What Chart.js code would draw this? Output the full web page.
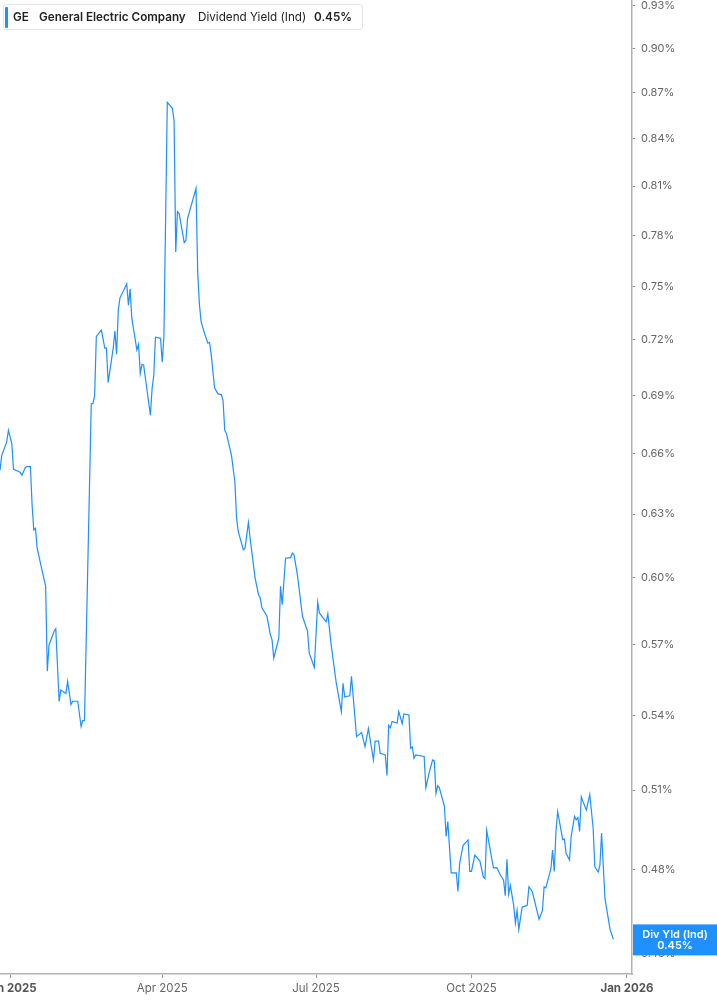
<!DOCTYPE html>
<html>
<head>
<meta charset="utf-8">
<script src="https://cdn.jsdelivr.net/npm/chart.js@4"></script>
<style>
  html, body { margin: 0; padding: 0; background: #fff; overflow: hidden; }
  #wrap { position: relative; width: 717px; height: 1005px; }
  #legend {
    position: absolute; left: 3px; top: 4px; width: 360px; height: 26px;
    border: 1px solid #e4e4e4; border-radius: 3px; background: #fff;
    font-family: Inter, sans-serif; font-size: 11.7px; color: #222;
    line-height: 25px; white-space: nowrap; box-sizing: border-box;
  }
  #legend .bar { position: absolute; left: 1px; top: 2px; width: 3px; height: 21px; background: #1e90ff; border-radius: 1px; }
  #legend span { position: absolute; top: 0; }
  #legend b { font-weight: 600; }
</style>
</head>
<body>
<div id="wrap">
  <canvas id="chart" width="717" height="1005"></canvas>
  <div id="legend">
    <div class="bar"></div>
    <span style="left:9px"><b>GE</b></span>
    <span style="left:35px"><b>General Electric Company</b></span>
    <span style="left:194px">Dividend Yield (Ind)</span>
    <span style="left:310px"><b>0.45%</b></span>
  </div>
</div>
<script>
// days since 1 Jan 2025
const days = [-6, -5, -2, -1, 1, 2, 5, 6, 7, 9, 10, 12, 13, 14, 15, 16, 19, 21, 22, 23,
  26, 27, 29, 30, 33, 34, 36, 37, 40, 42, 43, 44, 48, 49, 50, 51, 54, 56, 57, 58,
  61, 62, 63, 64, 65, 69, 70, 71, 72, 75, 76, 77, 78, 79, 83, 84, 85, 86, 89, 90,
  91, 93, 96, 97, 98, 99, 100, 103, 104, 105, 110, 111, 112, 113, 115, 117, 118, 119, 121, 123,
  125, 126, 127, 128, 131, 133, 134, 135, 138, 139, 141, 142, 145, 147, 148, 149, 152, 154, 155, 156,
  159, 160, 161, 163, 166, 167, 168, 170, 173, 176, 177, 180, 182, 183, 187, 188, 190, 193, 196, 197,
  198, 201, 202, 205, 208, 210, 212, 215, 216, 218, 219, 222, 223, 224, 225, 226, 229, 230, 232, 233,
  236, 237, 238, 239, 240, 245, 246, 248, 250, 251, 252, 253, 254, 257, 258, 259, 261, 264, 265, 266,
  268, 271, 272, 273, 275, 278, 280, 281, 282, 286, 288, 290, 292, 293, 294, 295, 296, 298, 299, 300,
  301, 303, 306, 307, 309, 313, 315, 316, 317, 320, 321, 322, 323, 324, 327, 328, 329, 331, 332, 334,
  335, 336, 337, 338, 339, 341, 343, 345, 346, 348, 349, 350, 352, 355, 357];

// dividend yield in %
const yieldPct = [0.6515, 0.6589, 0.6660, 0.6718, 0.6649, 0.6520, 0.6509, 0.6504, 0.6491, 0.6529, 0.6534, 0.6534, 0.6343, 0.6224, 0.6232, 0.6138, 0.6030, 0.5962, 0.5586, 0.5699,
  0.5760, 0.5771, 0.5458, 0.5506, 0.5492, 0.5543, 0.5445, 0.5459, 0.5459, 0.5354, 0.5379, 0.5379, 0.6856, 0.6856, 0.6899, 0.7219, 0.7254, 0.7154, 0.7154, 0.6968,
  0.7154, 0.7249, 0.7121, 0.7366, 0.7435, 0.7515, 0.7394, 0.7486, 0.7320, 0.7144, 0.7175, 0.7017, 0.7066, 0.7062, 0.6796, 0.6935, 0.7007, 0.7214, 0.7208, 0.7077,
  0.7219, 0.8636, 0.8597, 0.8516, 0.7701, 0.7942, 0.7932, 0.7756, 0.7769, 0.7901, 0.8085, 0.7580, 0.7400, 0.7301, 0.7236, 0.7181, 0.7186, 0.7117, 0.6939, 0.6908,
  0.6904, 0.6873, 0.6718, 0.6701, 0.6589, 0.6458, 0.6279, 0.6217, 0.6130, 0.6138, 0.6260, 0.6185, 0.5998, 0.5923, 0.5908, 0.5864, 0.5826, 0.5744, 0.5722, 0.5642,
  0.5729, 0.5961, 0.5878, 0.6091, 0.6094, 0.6115, 0.6107, 0.6013, 0.5826, 0.5759, 0.5664, 0.5602, 0.5890, 0.5841, 0.5801, 0.5837, 0.5699, 0.5535, 0.5416, 0.5535,
  0.5478, 0.5482, 0.5564, 0.5313, 0.5330, 0.5273, 0.5346, 0.5219, 0.5295, 0.5295, 0.5246, 0.5239, 0.5157, 0.5359, 0.5349, 0.5375, 0.5369, 0.5416, 0.5366, 0.5406,
  0.5402, 0.5266, 0.5271, 0.5226, 0.5239, 0.5233, 0.5109, 0.5170, 0.5219, 0.5215, 0.5087, 0.5117, 0.5109, 0.5037, 0.4922, 0.4979, 0.4787, 0.4787, 0.4719, 0.4821,
  0.4888, 0.4909, 0.4792, 0.4792, 0.4852, 0.4830, 0.4772, 0.4766, 0.4945, 0.4805, 0.4806, 0.4780, 0.4760, 0.4704, 0.4837, 0.4709, 0.4741, 0.4669, 0.4606, 0.4651,
  0.4584, 0.4663, 0.4669, 0.4736, 0.4718, 0.4620, 0.4651, 0.4736, 0.4732, 0.4802, 0.4871, 0.4792, 0.4941, 0.5017, 0.4910, 0.4912, 0.4859, 0.4834, 0.4922, 0.4998,
  0.4985, 0.4994, 0.4941, 0.5074, 0.5055, 0.5023, 0.5083, 0.4954, 0.4809, 0.4790, 0.4814, 0.4935, 0.4694, 0.4584, 0.4549];

const yTicks = [0.45, 0.48, 0.51, 0.54, 0.57, 0.60, 0.63, 0.66, 0.69, 0.72, 0.75, 0.78, 0.81, 0.84, 0.87, 0.90, 0.93];
const xTickDays = [0, 90, 181, 273, 365];
const xTickLabels = ["Jan 2025", "Apr 2025", "Jul 2025", "Oct 2025", "Jan 2026"];

const BLUE = "#1e90ff";
Chart.defaults.font.family = "Inter, sans-serif";

// blue reading box on the right axis
const lastValueBox = {
  id: "lastValueBox",
  afterDraw(chart) {
    const c = chart.ctx;
    const y = chart.scales.y.getPixelForValue(yieldPct[yieldPct.length - 1]);
    const left = chart.chartArea.right + 1;
    c.save();
    c.fillStyle = BLUE;
    c.fillRect(left, y - 15, chart.width - left, 31);
    c.fillStyle = "#fff";
    c.font = "600 11px Inter, sans-serif";
    c.textAlign = "center";
    c.textBaseline = "middle";
    const cx = (left + chart.width) / 2;
    c.fillText("Div Yld (Ind)", cx, y - 5);
    c.fillText(yieldPct[yieldPct.length - 1].toFixed(2) + "%", cx, y + 6);
    c.restore();
  }
};

new Chart(document.getElementById("chart"), {
  type: "line",
  data: {
    datasets: [{
      data: days.map((d, i) => ({ x: d, y: yieldPct[i] })),
      borderColor: BLUE,
      borderWidth: 1.2,
      pointRadius: 0,
      tension: 0
    }]
  },
  options: {
    responsive: false,
    animation: false,
    layout: { padding: 0 },
    plugins: { legend: { display: false }, tooltip: { enabled: false } },
    scales: {
      x: {
        type: "linear",
        min: -6,
        max: 368,
        afterBuildTicks: (s) => { s.ticks = xTickDays.map(v => ({ value: v })); },
        afterFit: (s) => { s.height = 31; s.paddingLeft = 0; s.paddingRight = 0; },
        border: { display: true, color: "#b3b3b3", width: 1.5 },
        grid: { display: true, drawOnChartArea: false, tickLength: 4, color: "#999" },
        ticks: {
          padding: 4,
          maxRotation: 0,
          autoSkip: false,
          callback: (v) => xTickLabels[xTickDays.indexOf(v)],
          color: (ctx) => ctx.tick && ctx.tick.value % 365 === 0 ? "#555" : "#666",
          font: (ctx) => ({ size: 11.5, weight: ctx.tick && ctx.tick.value % 365 === 0 ? "bold" : "normal" })
        }
      },
      y: {
        type: "logarithmic",
        position: "right",
        min: 0.443,
        max: 0.934,
        afterBuildTicks: (s) => { s.ticks = yTicks.map(v => ({ value: v })); },
        afterFit: (s) => { s.width = 85; s.paddingTop = 0; s.paddingBottom = 0; },
        border: { display: true, color: "#b3b3b3", width: 1.5 },
        grid: { display: true, drawOnChartArea: false, tickLength: 3, color: "#888" },
        ticks: {
          padding: 6,
          color: "#666",
          font: { size: 11 },
          callback: (v) => v.toFixed(2) + "%"
        }
      }
    }
  },
  plugins: [lastValueBox]
});
</script>
</body>
</html>
